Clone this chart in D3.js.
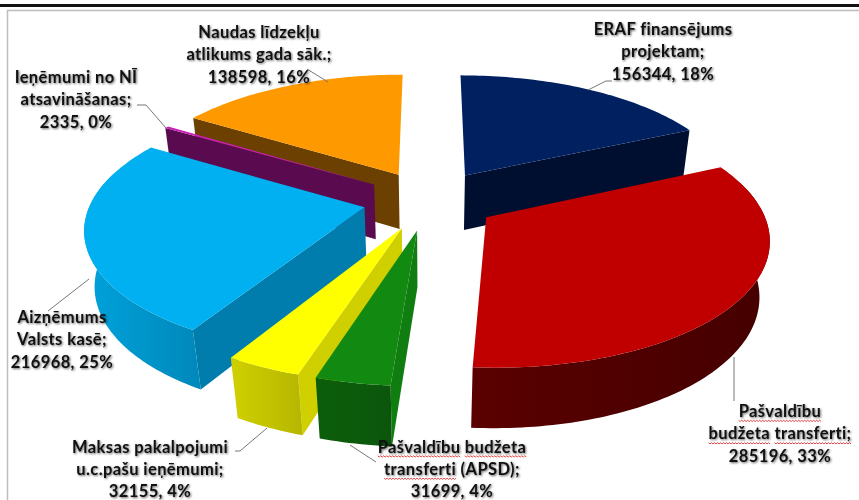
<!DOCTYPE html>
<html>
<head>
<meta charset="utf-8">
<script src="https://cdn.jsdelivr.net/npm/d3@7"></script>
<style>
  html, body { margin: 0; padding: 0; background: #fff; }
  svg { display: block; }
  text { font-family: Lato, sans-serif; font-weight: 700; font-size: 16.5px; letter-spacing: .4px; fill: #111; text-anchor: middle;
         filter: drop-shadow(1px 1px .8px rgba(0,0,0,.6)); }
</style>
</head>
<body>
<div id="chart"></div>
<script>
const categories = ['ERAF finansējums projektam', 'Pašvaldību budžeta transferti', 'Pašvaldību budžeta transferti (APSD)',
  'Maksas pakalpojumi u.c.pašu ieņēmumi', 'Aizņēmums Valsts kasē', 'Ieņēmumi no NĪ atsavināšanas', 'Naudas līdzekļu atlikums gada sāk.']
const values = [156344, 285196, 31699, 32155, 216968, 2335, 138598]
const labelLines = [
  ['ERAF finansējums', 'projektam;'],
  ['Pašvaldību', 'budžeta transferti;'],
  ['Pašvaldību budžeta', 'transferti (APSD);'],
  ['Maksas pakalpojumi', 'u.c.pašu ieņēmumi;'],
  ['Aizņēmums', 'Valsts kasē;'],
  ['Ieņēmumi no NĪ', 'atsavināšanas;'],
  ['Naudas līdzekļu', 'atlikums gada sāk.;'],
]
const topColors = ['#002060', '#c00000', '#128a12', '#ffff00', '#00b0f0', '#c81fb4', '#ff9900']
const arcColors = [['#000f30', '#000f30'], ['#5a0000', '#450000'], ['#0b5e0b', '#0c560c'], ['#d0d000', '#b6b600'],
  ['#00a2dc', '#0088ba'], ['#5a0b50', '#5a0b50'], ['#6b4000', '#6b4000']]
const wallColors = ['#000f30', '#4f0000', '#0f7d0f', '#d0d000', '#007dad', '#5a0b50', '#6b4000']

// far to near, the order the slices get painted in
const paintOrder = [0, 6, 5, 4, 1, 3, 2]
const SPELL_WORDS = ['Pašvaldību', 'budžeta', 'transferti']

const CX = 430, CY = 200
const RX = 273, RY = 122, DEPTH = 57
const PERSP = 0.15, PERSP_Z = 0.03
const EXPLODE = 0.245

// label centre + first baseline, and the leader line, per slice
const labelPos = [[663, 35], [780, 417], [452, 452.5], [150, 452.5], [62, 323], [76, 83], [259, 38]]
const leaders = [
  [[612, 81], [606, 81], [588, 90]],
  [[734, 401], [734, 357]],
  [[376, 462], [350, 445]],
  [[235, 451], [240, 451], [267, 428]],
  [[48, 311], [89, 279]],
  [[137, 105], [146, 105], [166, 128]],
  [[307, 69], [328, 82]],
]
const LINE_H = 22.4

const W = 859, H = 500
const svg = d3.select('#chart').append('svg').attr('width', W).attr('height', H)
const defs = svg.append('defs')

// chart frame + the thick rule above it
svg.append('rect').attr('width', W).attr('height', H).attr('fill', '#fff')
svg.append('rect').attr('x', 0).attr('y', 4).attr('width', W).attr('height', 3).attr('fill', '#111')
svg.append('path').attr('d', `M7.5,${H}V10.5H${W}`).attr('fill', 'none').attr('stroke', '#bdbdbd').attr('stroke-width', 1.5)

const total = d3.sum(values)
const arcs = d3.pie().sort(null).startAngle(0).endAngle(2 * Math.PI)(values)

function project(px, py, z) {
  const s = 1 / (1 + PERSP * py + PERSP_Z * z)
  return [CX + RX * px * s, CY - RY * py * s + DEPTH * z * s]
}

const line = d3.line()
const gSlices = svg.append('g').attr('class', 'slices')

paintOrder.forEach(i => {
  const a = arcs[i]
  const mid = (a.startAngle + a.endAngle) / 2
  const ox = EXPLODE * Math.sin(mid), oy = EXPLODE * Math.cos(mid)
  const steps = Math.max(2, Math.ceil((a.endAngle - a.startAngle) / 0.02))
  const thetas = d3.range(steps + 1).map(k => a.startAngle + (a.endAngle - a.startAngle) * k / steps)

  const rimAt = (t, z) => project(ox + Math.sin(t), oy + Math.cos(t), z)
  const apex = z => project(ox, oy, z)
  const top = thetas.map(t => rimAt(t, 0))

  const g = gSlices.append('g').attr('class', 'slice').attr('data-name', categories[i])

  const gradId = `arc-${i}`
  const grad = defs.append('linearGradient').attr('id', gradId)
  grad.append('stop').attr('offset', 0).attr('stop-color', arcColors[i][0])
  grad.append('stop').attr('offset', 1).attr('stop-color', arcColors[i][1])

  // only the radial walls that face the viewer
  if (Math.sin(a.startAngle) < -1e-6) {
    g.append('path').attr('d', line([apex(0), rimAt(a.startAngle, 0), rimAt(a.startAngle, 1), apex(1)]) + 'Z').attr('fill', wallColors[i])
  }
  if (Math.sin(a.endAngle) > 1e-6) {
    g.append('path').attr('d', line([apex(0), rimAt(a.endAngle, 0), rimAt(a.endAngle, 1), apex(1)]) + 'Z').attr('fill', wallColors[i])
  }
  // outer wall, front part of the rim only
  const front = thetas.filter(t => Math.cos(t) < 0.3)
  if (front.length > 1) {
    const wall = front.map(t => rimAt(t, 0)).concat(front.slice().reverse().map(t => rimAt(t, 1)))
    g.append('path').attr('d', line(wall) + 'Z').attr('fill', `url(#${gradId})`)
  }
  // top face
  g.append('path').attr('d', line([apex(0)].concat(top)) + 'Z').attr('fill', topColors[i])
})

svg.append('g').attr('class', 'leaders').selectAll('path').data(leaders).join('path')
  .attr('d', d => line(d)).attr('fill', 'none').attr('stroke', '#777').attr('stroke-width', 1)

const gLabels = svg.append('g').attr('class', 'labels')
const gSpell = svg.append('g').attr('class', 'spell')
const spellWords = []
values.forEach((v, i) => {
  const lines = labelLines[i].concat(`${v}, ${Math.round(v / total * 100)}%`)
  const text = gLabels.append('text').attr('x', labelPos[i][0]).attr('y', labelPos[i][1])
  lines.forEach((ln, k) => {
    const row = text.append('tspan').attr('x', labelPos[i][0]).attr('dy', k ? LINE_H : 0)
    ln.split(' ').forEach((word, w) => {
      if (w) row.append('tspan').text(' ')
      const t = row.append('tspan').text(word)
      if (SPELL_WORDS.includes(word.replace(';', ''))) spellWords.push(t.node())
    })
  })
})

// spell-check squiggles under the flagged words
spellWords.forEach(node => {
  const n = node.getNumberOfChars()
  const x0 = node.getStartPositionOfChar(0).x
  const x1 = node.getEndPositionOfChar(n - 1).x
  const y = node.getStartPositionOfChar(0).y + 3.5
  const pts = d3.range(x0, x1, 1.5).map((x, k) => [x, y + (k % 2 ? 1 : -0.2)])
  gSpell.append('path').attr('d', line(pts)).attr('fill', 'none').attr('stroke', '#e03030').attr('stroke-width', 0.9)
})
</script>
</body>
</html>
